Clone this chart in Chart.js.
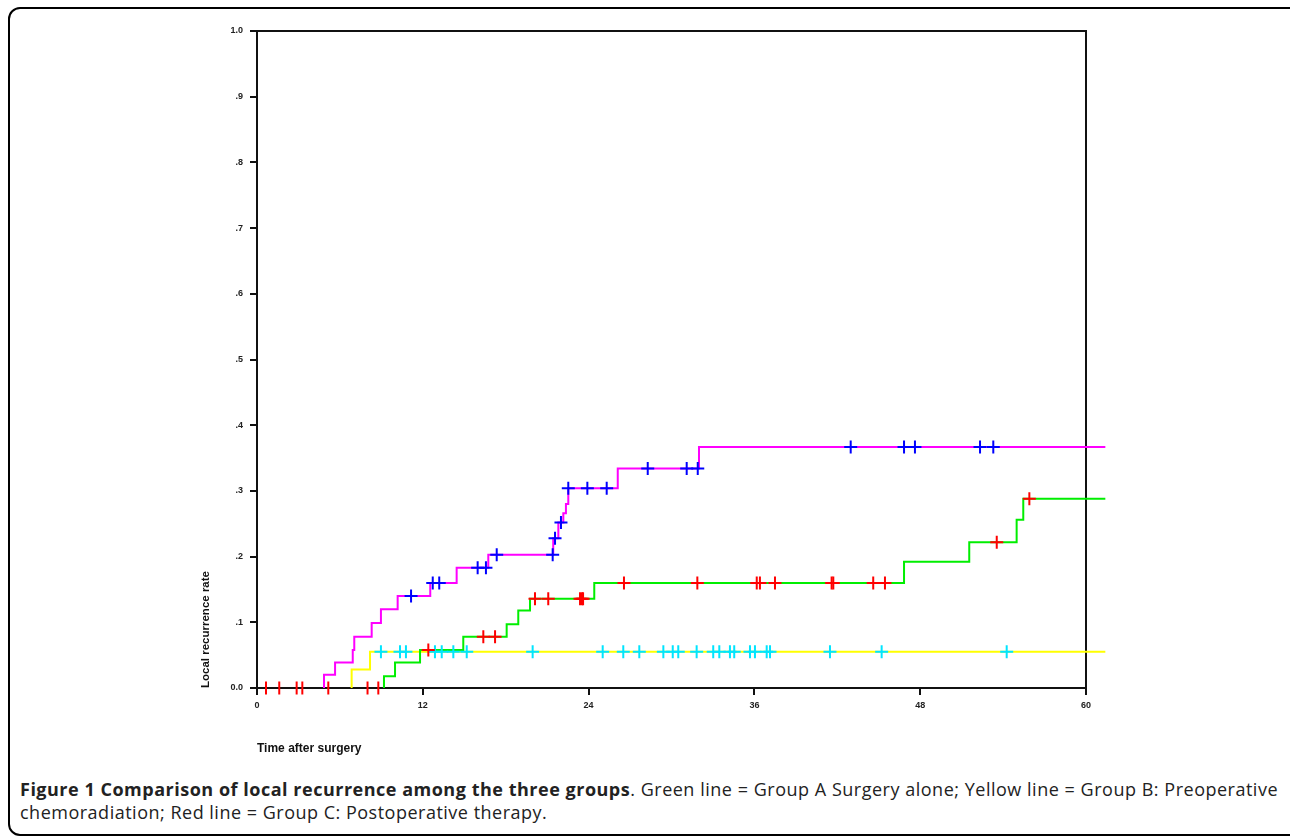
<!DOCTYPE html>
<html>
<head>
<meta charset="utf-8">
<script src="https://cdn.jsdelivr.net/npm/chart.js@4.4.0/dist/chart.umd.min.js"></script>
<style>
  html, body { margin: 0; padding: 0; background: #fff; width: 1290px; height: 836px; overflow: hidden; }
  #frame { position: absolute; left: 8px; top: 7px; width: 1300px; height: 825px; border: 2px solid #000; border-radius: 12px; }
  #plot { position: absolute; left: 0; top: 0; width: 1290px; height: 770px; }
  #caption { position: absolute; left: 20px; top: 778px; width: 1258px; font-family: "Open Sans", sans-serif; font-size: 18px; letter-spacing: 0.5px; line-height: 23px; color: #222; text-align: justify; }
</style>
</head>
<body>
<div id="frame"></div>
<div id="plot"><canvas id="kmChart"></canvas></div>
<div id="caption"><b>Figure 1 Comparison of local recurrence among the three groups</b>. Green line = Group A Surgery alone; Yellow line = Group B: Preoperative chemoradiation; Red line = Group C: Postoperative therapy.</div>

<script>
// axes
var xTickLabels = ["0", "12", "24", "36", "48", "60"];
var yTickLabels = ["0.0", ".1", ".2", ".3", ".4", ".5", ".6", ".7", ".8", ".9", "1.0"];
var followUpEnd = 61.4; // the curves run a bit past the last tick

// magenta curve (blue censor marks)
var magentaTimes = [4.85, 5.65, 6.93, 7.04, 8.30, 8.97, 10.18, 12.54, 14.45, 16.74, 21.44, 21.81, 22.17, 22.36, 22.53, 26.11, 31.99];
var magentaRates = [0.020, 0.039, 0.058, 0.078, 0.099, 0.120, 0.140, 0.160, 0.183, 0.203, 0.228, 0.252, 0.266, 0.280, 0.304, 0.334, 0.367];
var blueCensorTimes = [11.15, 12.72, 13.19, 15.97, 16.57, 17.35, 21.40, 21.57, 22.0, 22.53, 23.91, 25.31, 28.28, 31.10, 31.90, 42.97, 46.83, 47.62, 52.33, 53.29];
var blueCensorRates = [0.140, 0.160, 0.160, 0.183, 0.183, 0.203, 0.203, 0.228, 0.252, 0.304, 0.304, 0.304, 0.334, 0.334, 0.334, 0.367, 0.367, 0.367, 0.367, 0.367];

// green curve (red censor marks)
var greenTimes = [9.19, 9.99, 11.80, 14.93, 18.07, 18.91, 19.76, 24.41, 46.83, 51.55, 54.98, 55.46];
var greenRates = [0.018, 0.039, 0.058, 0.078, 0.097, 0.118, 0.136, 0.160, 0.192, 0.222, 0.256, 0.288];
var redCensorTimes = [12.40, 16.38, 17.23, 20.12, 21.08, 23.38, 23.52, 23.60, 26.56, 31.87, 36.17, 36.40, 37.49, 41.59, 41.71, 44.60, 45.45, 53.54, 55.90];
var redCensorRates = [0.058, 0.078, 0.078, 0.136, 0.136, 0.136, 0.136, 0.136, 0.160, 0.160, 0.160, 0.160, 0.160, 0.160, 0.160, 0.160, 0.160, 0.222, 0.288];
var redBaselineTimes = [0.65, 1.61, 2.87, 3.28, 5.16, 8.0, 8.78];

// yellow curve (cyan censor marks)
var yellowTimes = [6.85, 8.18];
var yellowRates = [0.028, 0.055];
var cyanCensorTimes = [8.97, 10.35, 10.78, 12.88, 13.37, 14.21, 15.18, 19.95, 25.02, 26.51, 27.67, 29.41, 30.09, 30.49, 31.82, 33.02, 33.46, 34.23, 34.54, 35.68, 36.04, 36.89, 37.13, 41.47, 45.21, 54.26];

// step curve: starts at 0 at the first event, holds the last value to the end
function stepPoints(times, rates) {
  var pts = [{ x: times[0], y: 0 }];
  for (var i = 0; i < times.length; i++) {
    pts.push({ x: times[i], y: rates[i] });
  }
  pts.push({ x: followUpEnd, y: rates[rates.length - 1] });
  return pts;
}

function markPoints(times, rates) {
  return times.map(function (t, i) {
    return { x: t, y: Array.isArray(rates) ? rates[i] : rates };
  });
}

function curve(label, pts, color) {
  return {
    label: label,
    data: pts,
    borderColor: color,
    borderWidth: 2,
    stepped: true,
    pointRadius: 0,
    fill: false,
    clip: false,
    order: 2
  };
}

function censor(label, pts, color, style) {
  return {
    label: label,
    data: pts,
    showLine: false,
    pointStyle: style || "cross",
    pointRotation: style === "line" ? 90 : 0,
    pointRadius: 6.5,
    pointBorderWidth: 2,
    pointBorderColor: color,
    pointBackgroundColor: color,
    clip: false,
    order: 1
  };
}

// top and right sides of the plot box
var boxPlugin = {
  id: "box",
  beforeDatasetsDraw: function (chart) {
    var a = chart.chartArea;
    var c = chart.ctx;
    c.save();
    c.strokeStyle = "#111";
    c.lineWidth = 2;
    c.beginPath();
    c.moveTo(a.left - 1, a.top);
    c.lineTo(a.right, a.top);
    c.lineTo(a.right, a.bottom + 1);
    c.stroke();
    c.restore();
  }
};

var tickFont = { family: "Liberation Sans", size: 9, weight: "bold" };

var kmChart = new Chart(document.getElementById("kmChart").getContext("2d"), {
  type: "line",
  data: {
    datasets: [
      curve("Group C", stepPoints(magentaTimes, magentaRates), "#ff00ff"),
      curve("Group A", stepPoints(greenTimes, greenRates), "#00ee00"),
      curve("Group B", stepPoints(yellowTimes, yellowRates), "#ffff00"),
      censor("Group C censored", markPoints(blueCensorTimes, blueCensorRates), "#0000ff"),
      censor("Group A censored", markPoints(redCensorTimes, redCensorRates), "#ff0000"),
      censor("Group A censored at 0", markPoints(redBaselineTimes, 0), "#ff0000", "line"),
      censor("Group B censored", markPoints(cyanCensorTimes, yellowRates[yellowRates.length - 1]), "#00e5ff")
    ]
  },
  options: {
    responsive: true,
    maintainAspectRatio: false,
    animation: false,
    events: [],
    layout: { padding: { left: 197, top: 31, right: 204, bottom: 12 } },
    plugins: {
      legend: { display: false },
      tooltip: { enabled: false }
    },
    scales: {
      x: {
        type: "linear",
        min: 0,
        max: 60,
        afterFit: function (scale) { scale.height = 70; },
        afterBuildTicks: function (scale) {
          scale.ticks = xTickLabels.map(function (l) { return { value: Number(l) }; });
        },
        ticks: {
          color: "#222",
          font: tickFont,
          padding: 5,
          maxRotation: 0,
          callback: function (value, index) { return xTickLabels[index]; }
        },
        grid: { drawOnChartArea: false, drawTicks: true, tickLength: 7, color: "#111", lineWidth: 2 },
        border: { display: true, color: "#111", width: 2 },
        title: {
          display: true,
          text: "Time after surgery",
          align: "start",
          color: "#111",
          font: { family: "Liberation Sans", size: 12, weight: "bold" },
          padding: { top: 0, bottom: 2 }
        }
      },
      y: {
        type: "linear",
        min: 0,
        max: 1,
        afterFit: function (scale) { scale.width = 60; },
        afterBuildTicks: function (scale) {
          scale.ticks = yTickLabels.map(function (l, i) { return { value: i / 10 }; });
        },
        ticks: {
          color: "#222",
          font: tickFont,
          padding: 7,
          callback: function (value, index) { return yTickLabels[index]; }
        },
        grid: { drawOnChartArea: false, drawTicks: true, tickLength: 7, color: "#111", lineWidth: 2 },
        border: { display: true, color: "#111", width: 2 },
        title: {
          display: true,
          text: "Local recurrence rate",
          align: "start",
          color: "#111",
          font: { family: "Liberation Sans", size: 11.5, weight: "bold" },
          padding: { top: 2, bottom: 0 }
        }
      }
    }
  },
  plugins: [boxPlugin]
});
</script>
</body>
</html>
